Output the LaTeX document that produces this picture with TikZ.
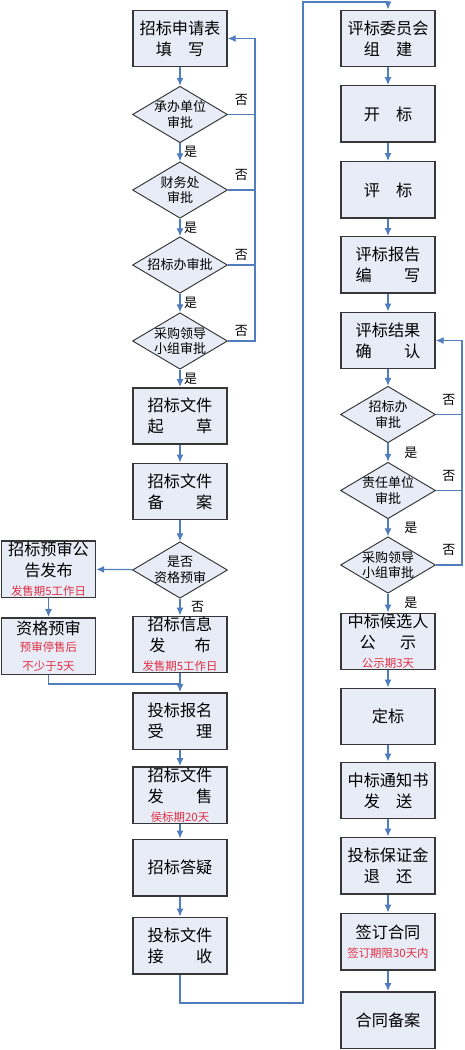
\documentclass[tikz,border=0pt]{standalone}
\usepackage{fontspec}
\setmainfont{Noto Sans CJK SC}
\usetikzlibrary{shapes.geometric,arrows.meta}
\tikzset{>={Latex[length=4.5pt,width=4pt]}}
\definecolor{flowblue}{RGB}{79,125,189}
\definecolor{boxfill}{RGB}{231,236,246}
\definecolor{boxedge}{RGB}{55,55,55}
\definecolor{notered}{RGB}{226,48,68}
\tikzstyle{stepbox}=[draw=boxedge,line width=0.85pt,fill=boxfill,minimum width=1.88cm,minimum height=1.13cm,inner sep=0,align=center,font=\fontsize{9.2}{11.9}\selectfont]
\tikzstyle{check}=[diamond,draw=boxedge,line width=0.55pt,fill=boxfill,minimum width=1.9cm,minimum height=1.13cm,inner sep=0]
\tikzstyle{checktext}=[align=center,inner sep=0,font=\fontsize{7.4}{9}\selectfont]
\tikzstyle{flow}=[draw=flowblue,line width=0.7pt]
\tikzstyle{yesno}=[font=\fontsize{7.4}{9}\selectfont,inner sep=2pt]
\newcommand{\note}[1]{{\color{notered}\fontsize{6.5}{8}\selectfont #1}}

\begin{document}
\begin{tikzpicture}[x=0.02cm,y=-0.02cm]
  \useasboundingbox (0,0) rectangle (464,1050);
  \def\gapA{\hspace{1em}}   % short gap in second line
  \def\gapB{\hspace{2em}}   % long gap in second line

  % LEFT COLUMN
  \node[stepbox] (apply)  at (180,38.5)  {招标申请表\\填\gapA 写};
  \node[check,label={[checktext]center:承办单位\\审批}] (d1) at (180,114.5) {};
  \node[check,label={[checktext]center:财务处\\审批}]   (d2) at (180,190) {};
  \node[check,label={[checktext]center:招标办审批}]     (d3) at (180,265) {};
  \node[check,label={[checktext]center:采购领导\\小组审批}] (d4) at (180,341) {};
  \node[stepbox] (draft)  at (180,416)   {招标文件\\起\gapB 草};
  \node[stepbox] (filing) at (180,491.5) {招标文件\\备\gapB 案};
  \node[check,label={[checktext]center:是否\\资格预审}] (dq) at (180,570) {};
  \node[stepbox] (pre)    at (48.5,569)  {招标预审公\\告发布\\[-1pt]\note{发售期5工作日}};
  \node[stepbox] (qual)   at (48.5,646)  {资格预审\\[-2pt]\note{预审停售后}\\[-1pt]\note{不少于5天}};
  \node[stepbox] (info)   at (180,644.5) {招标信息\\发\hspace{1.8em}布\\[-1pt]\note{发售期5工作日}};
  \node[stepbox] (reg)    at (180,721)   {投标报名\\受\gapB 理};
  \node[stepbox] (sale)   at (180,795)   {招标文件\\发\gapB 售\\[-1pt]\note{侯标期20天}};
  \node[stepbox] (qa)     at (180,867.5) {招标答疑};
  \node[stepbox] (recv)   at (180,945.5) {投标文件\\接\gapB 收};

  % RIGHT COLUMN
  \node[stepbox] (cmte)   at (388,38.5)  {评标委员会\\组\gapA 建};
  \node[stepbox] (open)   at (388,114)   {开\gapA 标};
  \node[stepbox] (evl)    at (388,190)   {评\gapA 标};
  \node[stepbox] (rep)    at (388,265)   {评标报告\\编\gapB 写};
  \node[stepbox] (conf)   at (388,340.5) {评标结果\\确\gapB 认};
  \node[check,label={[checktext]center:招标办\\审批}]   (e1) at (388,414.5) {};
  \node[check,label={[checktext]center:责任单位\\审批}] (e2) at (388,490.5) {};
  \node[check,label={[checktext]center:采购领导\\小组审批}] (e3) at (388,565) {};
  \node[stepbox] (cand)   at (388,641.5) {中标候选人\\公\hspace{1.5em}示\\[-1pt]\note{公示期3天}};
  \node[stepbox] (fix)    at (388,716.5) {定标};
  \node[stepbox] (notice) at (388,790.5) {中标通知书\\发\gapA 送};
  \node[stepbox] (refund) at (388,865.5) {投标保证金\\退\gapA 还};
  \node[stepbox] (sign)   at (388,941.5) {签订合同\\[-1pt]\note{签订期限30天内}};
  \node[stepbox] (arch)   at (388,1020)  {合同备案};

  \coordinate (backL) at (255,0);
  \coordinate (backR) at (462,0);
  \coordinate (merge) at (180,684);
  \coordinate (lowturn) at (303,1003);
  \coordinate (topturn) at (303,2);

  % MAIN FLOW LEFT
  \draw[flow,->] (apply) -- (d1);
  \draw[flow,->] (d1) -- (d2) node[midway,right,yesno] {是};
  \draw[flow,->] (d2) -- (d3) node[midway,right,yesno] {是};
  \draw[flow,->] (d3) -- (d4) node[midway,right,yesno] {是};
  \draw[flow,->] (d4) -- (draft) node[midway,right,yesno] {是};
  \draw[flow,->] (draft) -- (filing);
  \draw[flow,->] (filing) -- (dq);
  \draw[flow,->] (dq) -- (pre);
  \draw[flow,->] (dq) -- (info) node[midway,right,yesno,xshift=4pt] {否};
  \draw[flow,->] (pre) -- (qual);
  \draw[flow] (qual.south) |- (merge);
  \draw[flow,->] (info) -- (reg);
  \draw[flow,->] (reg) -- (sale);
  \draw[flow,->] (sale) -- (qa);
  \draw[flow,->] (qa) -- (recv);
  \draw[flow,->] (recv.south) |- (lowturn) -- (topturn) -| (cmte.north);

  % FEEDBACK LEFT
  \draw[flow] (d1.east) -- (d1.east -| backL) node[midway,above,yesno,yshift=3pt] {否};
  \draw[flow] (d2.east) -- (d2.east -| backL) node[midway,above,yesno,yshift=3pt] {否};
  \draw[flow] (d3.east) -- (d3.east -| backL) node[midway,above,yesno] {否};
  \draw[flow,->] (d4.east) -- (d4.east -| backL) node[midway,above,yesno] {否} |- (apply.east);

  % MAIN FLOW RIGHT
  \draw[flow,->] (cmte) -- (open);
  \draw[flow,->] (open) -- (evl);
  \draw[flow,->] (evl) -- (rep);
  \draw[flow,->] (rep) -- (conf);
  \draw[flow,->] (conf) -- (e1);
  \draw[flow,->] (e1) -- (e2) node[midway,right,yesno,xshift=7pt] {是};
  \draw[flow,->] (e2) -- (e3) node[midway,right,yesno,xshift=7pt] {是};
  \draw[flow,->] (e3) -- (cand) node[midway,right,yesno,xshift=7pt] {是};
  \draw[flow,->] (cand) -- (fix);
  \draw[flow,->] (fix) -- (notice);
  \draw[flow,->] (notice) -- (refund);
  \draw[flow,->] (refund) -- (sign);
  \draw[flow,->] (sign) -- (arch);

  % FEEDBACK RIGHT
  \draw[flow] (e1.east) -- (e1.east -| backR) node[midway,above,yesno,yshift=3pt] {否};
  \draw[flow] (e2.east) -- (e2.east -| backR) node[midway,above,yesno,yshift=3pt] {否};
  \draw[flow,->] (e3.east) -- (e3.east -| backR) node[midway,above,yesno,yshift=3pt] {否} |- (conf.east);
\end{tikzpicture}
\end{document}
